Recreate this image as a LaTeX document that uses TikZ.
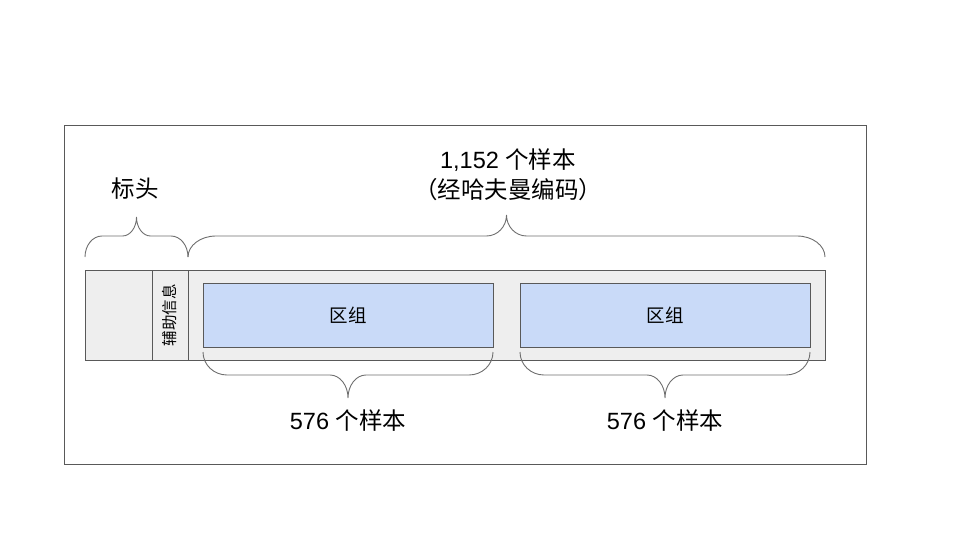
\documentclass[tikz,border=0pt]{standalone}
\usepackage{fontspec}
\setmainfont{Liberation Sans}
\newfontfamily\cjk{Noto Sans CJK SC}
\definecolor{edgegray}{HTML}{595959}
\definecolor{bracegray}{HTML}{6E6E6E}
\definecolor{barfill}{HTML}{EEEEEE}
\definecolor{blockfill}{HTML}{C9DAF8}
\newcommand{\cbrace}[7]{% x1 x2 yb ym yt r rtip
  \draw[bracestyle] (#1,#3) .. controls (#1,{#3+0.552*(#4-#3)}) and ({#1+#6-0.552*#6},#4) .. ({#1+#6},#4)
   -- ({(#1+#2)/2-#7},#4) .. controls ({(#1+#2)/2-#7+0.552*#7},#4) and ({(#1+#2)/2},{#5+0.552*(#4-#5)}) .. ({(#1+#2)/2},#5)
   .. controls ({(#1+#2)/2},{#5+0.552*(#4-#5)}) and ({(#1+#2)/2+#7-0.552*#7},#4) .. ({(#1+#2)/2+#7},#4)
   -- ({#2-#6},#4) .. controls ({#2-#6+0.552*#6},#4) and (#2,{#3+0.552*(#4-#3)}) .. (#2,#3);}
\begin{document}
\begin{tikzpicture}[x=1pt,y=-1pt,
  bracestyle/.style={draw=bracegray,line width=0.9pt},
  boxstyle/.style={draw=edgegray,line width=0.9pt,inner sep=0pt,outer sep=0pt,anchor=north west},
  bigtext/.style={font=\fontsize{23.5}{30}\selectfont,align=center,inner sep=0pt}]
\useasboundingbox (0,0) rectangle (960,540);
\node[boxstyle,minimum width=802pt,minimum height=339pt] (frame) at (64,125) {};
% bar
\node[boxstyle,fill=barfill,minimum width=740pt,minimum height=90pt] (bar) at (85,270) {};
\node[boxstyle,fill=barfill,minimum width=67pt,minimum height=90pt] (header) at (85,270) {};
\node[boxstyle,fill=barfill,minimum width=36pt,minimum height=90pt] (side) at (152,270) {};
\node[rotate=90,font=\cjk\fontsize{15.5}{15.5}\selectfont,inner sep=0pt] (sidetxt) at (side.center) {辅助信息};
\node[boxstyle,fill=blockfill,minimum width=290pt,minimum height=64pt] (g1) at (203,283) {};
\node[boxstyle,fill=blockfill,minimum width=290pt,minimum height=64pt] (g2) at (520,283) {};
\node[font=\cjk\fontsize{18.5}{18.5}\selectfont,inner sep=0pt] (g1t) at (g1.center) {区组};
\node[font=\cjk\fontsize{18.5}{18.5}\selectfont,inner sep=0pt] (g2t) at (g2.center) {区组};
% braces
\cbrace{85}{188}{257}{236}{217}{17}{14}
\cbrace{188}{825}{257}{236}{215}{28}{20}
\cbrace{203}{493}{352}{375}{398}{24}{18}
\cbrace{520}{810}{352}{375}{398}{24}{18}
% labels
\node[bigtext] (hdr) at (135,189) {\cjk 标头};
\node[bigtext] (top1) at (508,160) {1,152 {\cjk 个样本}};
\node[bigtext] (top2) at (508,190) {\cjk （经哈夫曼编码）};
\node[bigtext] (b1) at (348,421) {576 {\cjk 个样本}};
\node[bigtext] (b2) at (665,421) {576 {\cjk 个样本}};
\end{tikzpicture}
\end{document}
